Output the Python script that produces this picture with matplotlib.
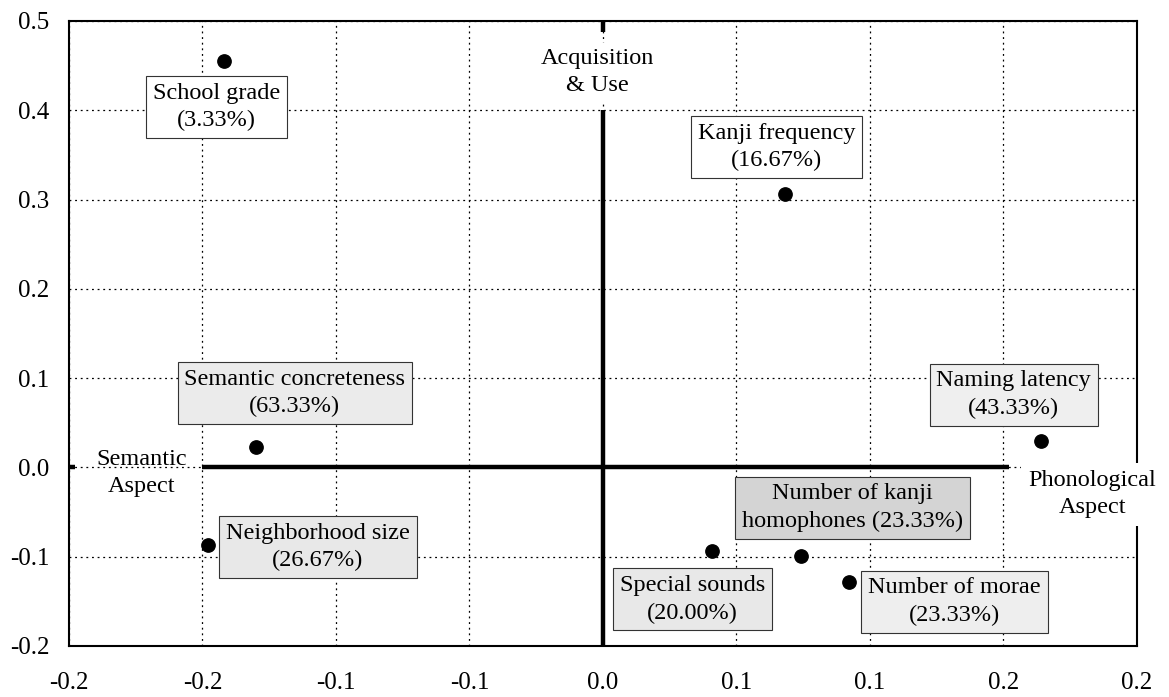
import matplotlib
matplotlib.use('Agg')

import matplotlib.pyplot as plt

plt.rcParams['font.family'] = ['Liberation Serif', 'DejaVu Serif']

# data
labels = ['School grade\n(3.33%)', 'Kanji frequency\n(16.67%)',
          'Semantic concreteness\n(63.33%)', 'Neighborhood size\n(26.67%)',
          'Naming latency\n(43.33%)', 'Number of kanji\nhomophones (23.33%)',
          'Special sounds\n(20.00%)', 'Number of morae\n(23.33%)']
dim1 = [-0.142, 0.068, -0.130, -0.148, 0.164, 0.074, 0.041, 0.092]
dim2 = [0.455, 0.306, 0.023, -0.087, 0.030, -0.099, -0.094, -0.128]

x_ticks = [-0.2, -0.15, -0.1, -0.05, 0.0, 0.05, 0.1, 0.15, 0.2]
x_ticklabels = ['-0.2', '-0.2', '-0.1', '-0.1', '0.0', '0.1', '0.1', '0.2', '0.2']
y_ticks = [-0.2, -0.1, 0.0, 0.1, 0.2, 0.3, 0.4, 0.5]
y_ticklabels = ['-0.2', '-0.1', '0.0', '0.1', '0.2', '0.3', '0.4', '0.5']

# label box placement (pixel offsets from point, y up) and fills
offsets = [(-7, -46), (-8, 47), (39, 54), (110, -2), (-27, 46), (52, 48), (-20, -48), (106, -20)]
fills = ['white', 'white', '#ebebeb', '#e8e8e8', '#efefef', '#d4d4d4', '#e8e8e8', '#eeeeee']

fig = plt.figure(figsize=(11.69, 6.97), dpi=100)
ax = fig.add_axes([0.0590, 0.0732, 0.9136, 0.8967])

ax.set_xlim(-0.2, 0.2)
ax.set_ylim(-0.2, 0.5)
ax.set_xticks(x_ticks)
ax.set_xticklabels(x_ticklabels)
ax.set_yticks(y_ticks)
ax.set_yticklabels(y_ticklabels)
ax.tick_params(length=0, labelsize=18)
ax.tick_params(axis='x', pad=19)
ax.tick_params(axis='y', pad=14)

ax.set_axisbelow(True)
ax.grid(True, color='black', linestyle=(0, (1.5, 3)), linewidth=0.9)
for s in ax.spines.values():
    s.set_linewidth(1.5)
    s.set_color('black')

# thick axes through the origin
ax.hlines(0, -0.15, 0.152, color='black', linewidth=3.2, zorder=2)
ax.hlines(0, -0.2, -0.1978, color='black', linewidth=3.2, zorder=2)
ax.vlines(0, -0.2, 0.4, color='black', linewidth=3.2, zorder=2)
ax.vlines(0, 0.4877, 0.5, color='black', linewidth=3.2, zorder=2)

ax.scatter(dim1, dim2, s=92, color='black', zorder=4)

for lab, x, y, off, fc in zip(labels, dim1, dim2, offsets, fills):
    ax.annotate(lab, xy=(x, y), xytext=off, textcoords='offset pixels',
                ha='center', va='center', fontsize=17.5, linespacing=1.4, zorder=5,
                bbox=dict(boxstyle='square,pad=0.28', facecolor=fc,
                          edgecolor='#333333', linewidth=0.8))

# dimension names
ax.text(0.495, 0.918, 'Acquisition\n& Use', transform=ax.transAxes, ha='center',
        va='center', fontsize=17.5, linespacing=1.4, zorder=3,
        bbox=dict(boxstyle='square,pad=0.2', facecolor='white', edgecolor='none'))
ax.text(0.068, 0.277, 'Semantic\nAspect', transform=ax.transAxes, ha='center',
        va='center', fontsize=17.5, linespacing=1.4, zorder=3)
ax.text(0.958, 0.243, 'Phonological\nAspect', transform=ax.transAxes, ha='center',
        va='center', fontsize=17.5, linespacing=1.4, zorder=3, clip_on=False,
        bbox=dict(boxstyle='square,pad=0.3', facecolor='white', edgecolor='none'))

fig.savefig('out.png', dpi=100)
